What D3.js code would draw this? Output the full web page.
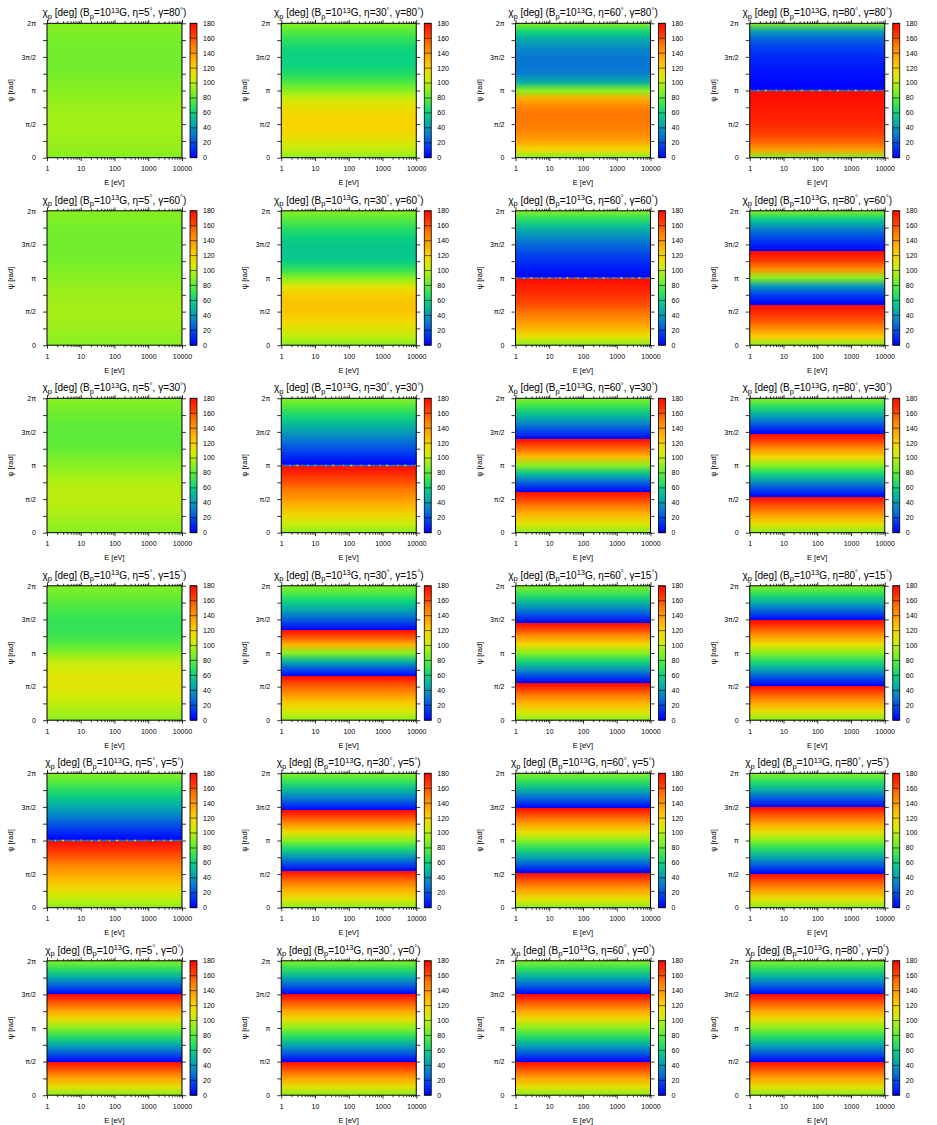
<!DOCTYPE html>
<html>
<head>
<meta charset="utf-8">
<script src="https://cdnjs.cloudflare.com/ajax/libs/d3/7.8.5/d3.min.js"></script>
<style>
body { margin: 0; background: #fff; }
text { font-family: "Liberation Sans", Arial, sans-serif; fill: #000; }
.axis text { font-size: 7px; }
.axis line { stroke: #000; stroke-width: 0.8; }
</style>
</head>
<body>
<div id="chart"></div>
<script>
// panel grid: columns are eta, rows are gamma
var etas = [5, 30, 60, 80];
var gammas = [80, 60, 30, 15, 5, 0];

var eTicks = [1, 10, 100, 1000, 10000];
var psiTicks = [0, 0.5, 1, 1.5, 2];            // units of pi
var psiTickLabels = ["0", "\u03c0/2", "\u03c0", "3\u03c0/2", "2\u03c0"];
var psiMinorTicks = [0.25, 0.75, 1.25, 1.75];
var cbTicks = [0, 20, 40, 60, 80, 100, 120, 140, 160, 180];

// chi_p [deg] against psi [pi rad] (flat in E).
// two pairs at the same psi = chi wraps from 180 to 0 there
var chi_e5_g80  = [[0,90],[0.125,92],[0.25,94],[0.375,95],[0.5,95],[0.625,95],[0.75,94],[0.875,92],[1,90],[1.125,88],[1.25,86],[1.375,85],[1.5,85],[1.625,85],[1.75,86],[1.875,88],[2,90]];
var chi_e30_g80 = [[0,90],[0.125,102],[0.25,111],[0.375,118],[0.5,120],[0.625,119],[0.75,114],[0.875,104],[1,90],[1.125,76],[1.25,66],[1.375,61],[1.5,60],[1.625,62],[1.75,69],[1.875,78],[2,90]];
var chi_e60_g80 = [[0,90],[0.125,118],[0.25,136],[0.375,146],[0.5,150],[0.625,152],[0.75,148],[0.875,133],[1,90],[1.125,47],[1.25,32],[1.375,29],[1.5,30],[1.625,35],[1.75,44],[1.875,62],[2,90]];
var chi_e80_g80 = [[0,90],[0.125,139],[0.25,157],[0.375,165],[0.5,170],[0.625,173],[0.75,176],[0.875,178],[1,180],[1,0],[1.125,2],[1.25,4],[1.375,7],[1.5,10],[1.625,15],[1.75,23],[1.875,41],[2,90]];

var chi_e5_g60  = [[0,90],[0.125,92],[0.25,94],[0.375,95],[0.5,96],[0.625,95],[0.75,94],[0.875,92],[1,90],[1.125,88],[1.25,86],[1.375,85],[1.5,84],[1.625,85],[1.75,86],[1.875,88],[2,90]];
var chi_e30_g60 = [[0,90],[0.125,101],[0.25,111],[0.375,119],[0.5,124],[0.625,125],[0.75,122],[0.875,110],[1,90],[1.125,70],[1.25,58],[1.375,55],[1.5,56],[1.625,61],[1.75,69],[1.875,79],[2,90]];
var chi_e60_g60 = [[0,90],[0.125,112],[0.25,130],[0.375,143],[0.5,153],[0.625,162],[0.75,168],[0.875,174],[1,180],[1,0],[1.125,6],[1.25,12],[1.375,19],[1.5,27],[1.625,37],[1.75,50],[1.875,68],[2,90]];
var chi_e80_g60 = [[0,90],[0.125,122],[0.25,144],[0.375,160],[0.5,171],[0.599,180],[0.599,0],[0.625,2],[0.75,16],[0.875,39],[1,90],[1.125,141],[1.25,164],[1.375,178],[1.401,180],[1.401,0],[1.5,9],[1.625,20],[1.75,36],[1.875,58],[2,90]];

var chi_e5_g30  = [[0,90],[0.125,93],[0.25,96],[0.375,99],[0.5,100],[0.625,100],[0.75,98],[0.875,94],[1,90],[1.125,86],[1.25,82],[1.375,80],[1.5,80],[1.625,81],[1.75,84],[1.875,87],[2,90]];
var chi_e30_g30 = [[0,90],[0.125,103],[0.25,116],[0.375,128],[0.5,139],[0.625,150],[0.75,160],[0.875,170],[1,180],[1,0],[1.125,10],[1.25,20],[1.375,30],[1.5,41],[1.625,52],[1.75,64],[1.875,77],[2,90]];
var chi_e60_g30 = [[0,90],[0.125,109],[0.25,128],[0.375,146],[0.5,164],[0.608,180],[0.608,0],[0.625,3],[0.75,25],[0.875,53],[1,90],[1.125,127],[1.25,155],[1.375,177],[1.392,180],[1.392,0],[1.5,16],[1.625,34],[1.75,52],[1.875,71],[2,90]];
var chi_e80_g30 = [[0,90],[0.125,113],[0.25,135],[0.375,156],[0.5,175],[0.532,180],[0.532,0],[0.625,15],[0.75,37],[0.875,62],[1,90],[1.125,118],[1.25,143],[1.375,165],[1.468,180],[1.468,0],[1.5,5],[1.625,24],[1.75,45],[1.875,67],[2,90]];

var chi_e5_g15  = [[0,90],[0.125,96],[0.25,101],[0.375,106],[0.5,109],[0.625,110],[0.75,107],[0.875,101],[1,90],[1.125,79],[1.25,73],[1.375,70],[1.5,71],[1.625,74],[1.75,79],[1.875,84],[2,90]];
var chi_e30_g15 = [[0,90],[0.125,106],[0.25,122],[0.375,139],[0.5,156],[0.625,175],[0.654,180],[0.654,0],[0.75,18],[0.875,49],[1,90],[1.125,131],[1.25,162],[1.346,180],[1.346,0],[1.375,5],[1.5,24],[1.625,42],[1.75,58],[1.875,74],[2,90]];
var chi_e60_g15 = [[0,90],[0.125,110],[0.25,130],[0.375,151],[0.5,172],[0.549,180],[0.549,0],[0.625,13],[0.75,37],[0.875,63],[1,90],[1.125,117],[1.25,143],[1.375,167],[1.451,180],[1.451,0],[1.5,9],[1.625,29],[1.75,50],[1.875,70],[2,90]];
var chi_e80_g15 = [[0,90],[0.125,112],[0.25,134],[0.375,156],[0.5,177],[0.515,180],[0.515,0],[0.625,19],[0.75,42],[0.875,66],[1,90],[1.125,114],[1.25,138],[1.375,161],[1.485,180],[1.485,0],[1.5,3],[1.625,24],[1.75,46],[1.875,68],[2,90]];

var chi_e5_g5   = [[0,90],[0.125,101],[0.25,113],[0.375,124],[0.5,135],[0.625,146],[0.75,158],[0.875,169],[1,180],[1,0],[1.125,11],[1.25,22],[1.375,34],[1.5,45],[1.625,56],[1.75,67],[1.875,79],[2,90]];
var chi_e30_g5  = [[0,90],[0.125,110],[0.25,130],[0.375,150],[0.5,171],[0.548,180],[0.548,0],[0.625,14],[0.75,38],[0.875,64],[1,90],[1.125,116],[1.25,142],[1.375,166],[1.452,180],[1.452,0],[1.5,9],[1.625,30],[1.75,50],[1.875,70],[2,90]];
var chi_e60_g5  = [[0,90],[0.125,112],[0.25,133],[0.375,155],[0.5,177],[0.516,180],[0.516,0],[0.625,20],[0.75,43],[0.875,66],[1,90],[1.125,114],[1.25,137],[1.375,160],[1.484,180],[1.484,0],[1.5,3],[1.625,25],[1.75,47],[1.875,69],[2,90]];
var chi_e80_g5  = [[0,90],[0.125,112],[0.25,135],[0.375,157],[0.5,179],[0.505,180],[0.505,0],[0.625,22],[0.75,44],[0.875,67],[1,90],[1.125,113],[1.25,136],[1.375,158],[1.495,180],[1.495,0],[1.5,1],[1.625,23],[1.75,46],[1.875,68],[2,90]];

var chi_e5_g0   = [[0,90],[0.125,113],[0.25,135],[0.375,158],[0.5,180],[0.5,0],[0.625,23],[0.75,45],[0.875,68],[1,90],[1.125,113],[1.25,135],[1.375,158],[1.5,180],[1.5,0],[1.625,23],[1.75,45],[1.875,68],[2,90]];
var chi_e30_g0  = [[0,90],[0.125,113],[0.25,135],[0.375,158],[0.5,180],[0.5,0],[0.625,23],[0.75,45],[0.875,68],[1,90],[1.125,113],[1.25,135],[1.375,158],[1.5,180],[1.5,0],[1.625,23],[1.75,45],[1.875,68],[2,90]];
var chi_e60_g0  = [[0,90],[0.125,113],[0.25,135],[0.375,158],[0.5,180],[0.5,0],[0.625,23],[0.75,45],[0.875,68],[1,90],[1.125,113],[1.25,135],[1.375,158],[1.5,180],[1.5,0],[1.625,23],[1.75,45],[1.875,68],[2,90]];
var chi_e80_g0  = [[0,90],[0.125,113],[0.25,135],[0.375,158],[0.5,180],[0.5,0],[0.625,23],[0.75,45],[0.875,68],[1,90],[1.125,113],[1.25,135],[1.375,158],[1.5,180],[1.5,0],[1.625,23],[1.75,45],[1.875,68],[2,90]];

var profiles = [
  [chi_e5_g80, chi_e30_g80, chi_e60_g80, chi_e80_g80],
  [chi_e5_g60, chi_e30_g60, chi_e60_g60, chi_e80_g60],
  [chi_e5_g30, chi_e30_g30, chi_e60_g30, chi_e80_g30],
  [chi_e5_g15, chi_e30_g15, chi_e60_g15, chi_e80_g15],
  [chi_e5_g5,  chi_e30_g5,  chi_e60_g5,  chi_e80_g5],
  [chi_e5_g0,  chi_e30_g0,  chi_e60_g0,  chi_e80_g0]
];

// panels (row, col) where eta = gamma: the psi = pi row is a noisy seam
var seamPanels = [[0, 3], [1, 2], [2, 1], [4, 0]];
var seamChi = [30, 100, 165];

// palette (blue - green - yellow - red)
var palStops = [0, 15, 30, 45, 60, 75, 90, 105, 120, 135, 150, 165, 180];
var palColours = ["#0000ff", "#003cf0", "#0878d2", "#05aaaa", "#0ad280", "#46e846", "#88f020",
                  "#d2ec08", "#f8d400", "#ffa500", "#ff7d00", "#ff3a00", "#ff0800"];

var W = 937, H = 1125,
    tileW = W / 4, tileH = H / 6,
    margin = {left: 47, top: 23.3},
    plotW = 135, plotH = 134.4,
    cbX = 143, cbW = 7;

var svg = d3.select("#chart").append("svg").attr("width", W).attr("height", H);
var defs = svg.append("defs");

var xScale = d3.scaleLog().domain([1, 10000]).range([0, plotW]),
    yScale = d3.scaleLinear().domain([0, 2]).range([plotH, 0]),
    cbScale = d3.scaleLinear().domain([0, 180]).range([plotH, 0]),
    colour = d3.scaleLinear().domain(palStops).range(palColours).clamp(true),
    stopAt = d3.scaleLinear().domain([0, 2]).range([0, 1]);

var eMinor = [];
for (var k = 0; k < 4; k++) for (var m = 2; m < 10; m++) eMinor.push(m * Math.pow(10, k));

// colour bar gradient, shared by all panels
var cbGrad = defs.append("linearGradient").attr("id", "cbar")
    .attr("gradientUnits", "userSpaceOnUse")
    .attr("x1", 0).attr("x2", 0).attr("y1", cbScale(0)).attr("y2", cbScale(180));
cbGrad.selectAll("stop").data(d3.range(0, 181, 5)).enter().append("stop")
    .attr("offset", function(d) { return d / 180; })
    .attr("stop-color", function(d) { return colour(d); });

function sub(t, s, base) {
  t.append("tspan").text(s).attr("dy", 2.5).style("font-size", "7.5px");
  t.append("tspan").text(base).attr("dy", -2.5);
}

gammas.forEach(function(gam, r) {
  etas.forEach(function(eta, c) {
    var data = profiles[r][c];
    var id = "grad-" + r + "-" + c;

    var grad = defs.append("linearGradient").attr("id", id)
        .attr("gradientUnits", "userSpaceOnUse")
        .attr("x1", 0).attr("x2", 0).attr("y1", yScale(0)).attr("y2", yScale(2));
    grad.selectAll("stop").data(data).enter().append("stop")
        .attr("offset", function(d) { return stopAt(d[0]); })
        .attr("stop-color", function(d) { return colour(d[1]); });

    var g = svg.append("g")
        .attr("transform", "translate(" + (c * tileW + margin.left) + "," + (r * tileH + margin.top) + ")");

    g.append("rect")
        .attr("x", xScale(1)).attr("y", yScale(2))
        .attr("width", xScale(10000) - xScale(1))
        .attr("height", yScale(0) - yScale(2))
        .attr("fill", "url(#" + id + ")");

    var isSeam = seamPanels.some(function(p) { return p[0] === r && p[1] === c; });
    if (isSeam) {
      seamChi.forEach(function(v, i) {
        g.append("line")
            .attr("x1", xScale(1)).attr("x2", xScale(10000))
            .attr("y1", yScale(1)).attr("y2", yScale(1))
            .attr("stroke", colour(v)).attr("stroke-width", 1.6)
            .attr("stroke-dasharray", i === 0 ? null : (i === 1 ? "2,9,1,6" : "1.5,5,2,11"))
            .attr("stroke-dashoffset", i * 3);
      });
    }

    // axes, ticks out on all four sides
    g.append("g").attr("class", "axis").attr("transform", "translate(0," + plotH + ")")
        .call(d3.axisBottom(xScale).tickValues(eTicks).tickFormat(d3.format("d")).tickSize(3.5).tickSizeOuter(0).tickPadding(5));
    g.append("g").attr("class", "axis").attr("transform", "translate(0," + plotH + ")")
        .call(d3.axisBottom(xScale).tickValues(eMinor).tickFormat("").tickSize(2).tickSizeOuter(0));
    g.append("g").attr("class", "axis")
        .call(d3.axisTop(xScale).tickValues(eTicks).tickFormat("").tickSize(3.5).tickSizeOuter(0));
    g.append("g").attr("class", "axis")
        .call(d3.axisTop(xScale).tickValues(eMinor).tickFormat("").tickSize(2).tickSizeOuter(0));
    g.append("g").attr("class", "axis")
        .call(d3.axisLeft(yScale).tickValues(psiTicks).tickFormat(function(d, i) { return psiTickLabels[i]; })
              .tickSize(4).tickSizeOuter(0).tickPadding(7));
    g.append("g").attr("class", "axis")
        .call(d3.axisLeft(yScale).tickValues(psiMinorTicks).tickFormat("").tickSize(4).tickSizeOuter(0));
    g.append("g").attr("class", "axis").attr("transform", "translate(" + plotW + ",0)")
        .call(d3.axisRight(yScale).tickValues(psiTicks.concat(psiMinorTicks)).tickFormat("").tickSize(4).tickSizeOuter(0));
    g.selectAll(".domain").remove();

    g.append("rect")
        .attr("width", plotW).attr("height", plotH)
        .attr("fill", "none").attr("stroke", "#000").attr("stroke-width", 1);

    // colour bar
    var cb = g.append("g").attr("transform", "translate(" + cbX + ",0)");
    cb.append("rect").attr("width", cbW).attr("height", plotH).attr("fill", "url(#cbar)");
    cb.selectAll(".cbtick").data(cbTicks).enter().append("line")
        .attr("class", "cbtick")
        .attr("x1", 0).attr("x2", cbW)
        .attr("y1", function(d) { return cbScale(d); })
        .attr("y2", function(d) { return cbScale(d); })
        .attr("stroke", "#000").attr("stroke-width", 0.7).attr("stroke-opacity", 0.8);
    cb.append("rect").attr("width", cbW).attr("height", plotH)
        .attr("fill", "none").attr("stroke", "#000").attr("stroke-width", 0.8);
    cb.selectAll(".cblab").data(cbTicks).enter().append("text")
        .attr("class", "cblab")
        .attr("x", 13).attr("y", function(d) { return cbScale(d); })
        .attr("dy", "0.35em")
        .style("font-size", "7px")
        .text(function(d) { return d; });

    // axis titles
    g.append("text")
        .attr("x", plotW / 2).attr("y", plotH + 27.5)
        .attr("text-anchor", "middle").style("font-size", "7.5px")
        .text("E [eV]");
    g.append("text")
        .attr("transform", "translate(-34," + (plotH / 2) + ") rotate(-90)")
        .attr("text-anchor", "middle").style("font-size", "7.5px")
        .text("\u03c8 [rad]");

    // panel title
    var t = g.append("text")
        .attr("x", plotW / 2).attr("y", -7)
        .attr("text-anchor", "middle").style("font-size", "10px");
    t.append("tspan").text("\u03c7");
    sub(t, "p", " [deg] (B");
    sub(t, "p", "=10");
    t.append("tspan").text("13").attr("dy", -3.5).style("font-size", "7.5px");
    t.append("tspan").text("G, \u03b7=" + eta).attr("dy", 3.5);
    t.append("tspan").text("\u00b0").attr("dy", -3.5).style("font-size", "7.5px");
    t.append("tspan").text(", \u03b3=" + gam).attr("dy", 3.5);
    t.append("tspan").text("\u00b0").attr("dy", -3.5).style("font-size", "7.5px");
    t.append("tspan").text(")").attr("dy", 3.5);
  });
});
</script>
</body>
</html>
